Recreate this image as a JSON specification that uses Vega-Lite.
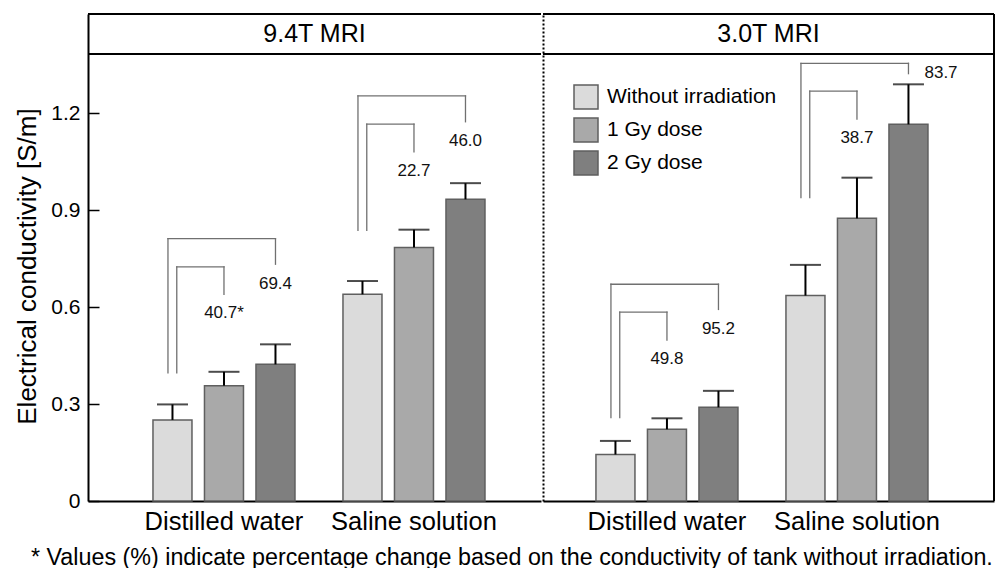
{
  "$schema": "https://vega.github.io/schema/vega-lite/v6.json",
  "background": "white",
  "padding": {"left": 14, "top": 13, "right": 0, "bottom": 0},
  "autosize": {"type": "pad"},
  "spacing": 0,
  "title": {
    "text": "* Values (%) indicate percentage change based on the conductivity of tank without irradiation.",
    "orient": "bottom", "anchor": "middle", "font": "Liberation Sans", "fontSize": 23.3, "fontWeight": "normal", "color": "#000", "offset": 12, "dx": 7
  },
  "datasets": {
    "bars": [
      {"panel": "9.4T MRI", "solution": "Distilled water", "dose": "Without irradiation", "value": 0.251, "upper": 0.299},
      {"panel": "9.4T MRI", "solution": "Distilled water", "dose": "1 Gy dose", "value": 0.357, "upper": 0.400},
      {"panel": "9.4T MRI", "solution": "Distilled water", "dose": "2 Gy dose", "value": 0.423, "upper": 0.485},
      {"panel": "9.4T MRI", "solution": "Saline solution", "dose": "Without irradiation", "value": 0.640, "upper": 0.681},
      {"panel": "9.4T MRI", "solution": "Saline solution", "dose": "1 Gy dose", "value": 0.785, "upper": 0.840},
      {"panel": "9.4T MRI", "solution": "Saline solution", "dose": "2 Gy dose", "value": 0.934, "upper": 0.984},
      {"panel": "3.0T MRI", "solution": "Distilled water", "dose": "Without irradiation", "value": 0.144, "upper": 0.186},
      {"panel": "3.0T MRI", "solution": "Distilled water", "dose": "1 Gy dose", "value": 0.222, "upper": 0.256},
      {"panel": "3.0T MRI", "solution": "Distilled water", "dose": "2 Gy dose", "value": 0.290, "upper": 0.341},
      {"panel": "3.0T MRI", "solution": "Saline solution", "dose": "Without irradiation", "value": 0.636, "upper": 0.731},
      {"panel": "3.0T MRI", "solution": "Saline solution", "dose": "1 Gy dose", "value": 0.875, "upper": 1.001},
      {"panel": "3.0T MRI", "solution": "Saline solution", "dose": "2 Gy dose", "value": 1.166, "upper": 1.290}
    ],
    "brackets": [
      {"panel": "9.4T MRI", "solution": "Distilled water", "kind": "outer", "left_bottom": 0.397, "top": 0.812, "right_bottom": 0.733, "label": "69.4", "label_y": 0.673},
      {"panel": "9.4T MRI", "solution": "Distilled water", "kind": "inner", "left_bottom": 0.397, "top": 0.725, "right_bottom": 0.640, "label": "40.7*", "label_y": 0.581},
      {"panel": "9.4T MRI", "solution": "Saline solution", "kind": "outer", "left_bottom": 0.838, "top": 1.254, "right_bottom": 1.174, "label": "46.0", "label_y": 1.115},
      {"panel": "9.4T MRI", "solution": "Saline solution", "kind": "inner", "left_bottom": 0.838, "top": 1.167, "right_bottom": 1.081, "label": "22.7", "label_y": 1.021},
      {"panel": "3.0T MRI", "solution": "Distilled water", "kind": "outer", "left_bottom": 0.258, "top": 0.671, "right_bottom": 0.593, "label": "95.2", "label_y": 0.533},
      {"panel": "3.0T MRI", "solution": "Distilled water", "kind": "inner", "left_bottom": 0.258, "top": 0.585, "right_bottom": 0.498, "label": "49.8", "label_y": 0.439},
      {"panel": "3.0T MRI", "solution": "Saline solution", "kind": "outer", "left_bottom": 0.939, "top": 1.355, "right_bottom": 1.323, "label": "83.7", "label_y": 1.326},
      {"panel": "3.0T MRI", "solution": "Saline solution", "kind": "inner", "left_bottom": 0.939, "top": 1.269, "right_bottom": 1.182, "label": "38.7", "label_y": 1.123}
    ]
  },
  "hconcat": [
    {
      "name": "p94",
      "width": 453,
      "height": 487,
      "layer": [
        {
          "data": {"name": "bars"},
          "transform": [{"filter": "datum.panel == '9.4T MRI'"}],
          "mark": {"type": "bar", "stroke": "#5f5f5f", "strokeWidth": 1.5},
          "encoding": {
            "x": {"field": "solution", "type": "nominal", "sort": null,
              "scale": {"domain": ["Distilled water", "Saline solution"], "paddingInner": 0.2526, "paddingOuter": 0.3184, "align": 0.537},
              "axis": {"title": null, "ticks": false, "labelAngle": 0, "labelFont": "Liberation Sans", "labelFontSize": 25.5, "labelColor": "#000", "labelPadding": 8, "domainColor": "#000", "domainWidth": 2, "grid": false}},
            "xOffset": {"field": "dose", "type": "nominal", "sort": null,
              "scale": {"domain": ["Without irradiation", "1 Gy dose", "2 Gy dose"], "paddingInner": 0.2426, "paddingOuter": 0}},
            "y": {"field": "value", "type": "quantitative",
              "scale": {"domain": [0, 1.5077], "nice": false},
              "axis": {"values": [0, 0.3, 0.6, 0.9, 1.2], "format": ".1~f", "ticks": false, "grid": true, "gridDash": [11, 3000], "gridColor": "#000", "gridWidth": 1.5, "gridOpacity": 1, "domainColor": "#000", "domainWidth": 2, "labelFont": "Liberation Sans", "labelFontSize": 21, "labelColor": "#000", "labelPadding": 8, "title": "Electrical conductivity [S/m]", "titleFont": "Liberation Sans", "titleFontSize": 26, "titleFontWeight": "normal", "titleColor": "#000", "titlePadding": 10, "titleLimit": 1000, "titleY": 252}},
            "fill": {"field": "dose", "type": "nominal", "sort": null,
              "scale": {"domain": ["Without irradiation", "1 Gy dose", "2 Gy dose"], "range": ["#dbdbdb", "#a9a9a9", "#7f7f7f"]},
              "legend": null}
          }
        },
        {
          "data": {"name": "bars"},
          "transform": [{"filter": "datum.panel == '9.4T MRI'"}],
          "mark": {"type": "rule", "color": "#000", "strokeWidth": 2},
          "encoding": {
            "x": {"field": "solution", "type": "nominal", "sort": null},
            "xOffset": {"field": "dose", "type": "nominal", "sort": null},
            "y": {"field": "value", "type": "quantitative"},
            "y2": {"field": "upper"}
          }
        },
        {
          "data": {"name": "bars"},
          "transform": [{"filter": "datum.panel == '9.4T MRI'"}],
          "mark": {"type": "tick", "color": "#000", "thickness": 2, "size": 31, "orient": "horizontal"},
          "encoding": {
            "x": {"field": "solution", "type": "nominal", "sort": null},
            "xOffset": {"field": "dose", "type": "nominal", "sort": null},
            "y": {"field": "upper", "type": "quantitative"}
          }
        },
        {
          "data": {"name": "brackets"},
          "transform": [{"filter": "datum.panel == '9.4T MRI' && datum.kind == 'outer'"}],
          "mark": {"type": "rule", "color": "#707070", "strokeWidth": 1.3, "strokeCap": "square"},
          "encoding": {
            "x": {"field": "solution", "type": "nominal", "sort": null, "bandPosition": 0.1056},
            "y": {"field": "left_bottom", "type": "quantitative"},
            "y2": {"field": "top"}
          }
        },
        {
          "data": {"name": "brackets"},
          "transform": [{"filter": "datum.panel == '9.4T MRI' && datum.kind == 'inner'"}],
          "mark": {"type": "rule", "color": "#707070", "strokeWidth": 1.3, "strokeCap": "square"},
          "encoding": {
            "x": {"field": "solution", "type": "nominal", "sort": null, "bandPosition": 0.1676},
            "y": {"field": "left_bottom", "type": "quantitative"},
            "y2": {"field": "top"}
          }
        },
        {
          "data": {"name": "brackets"},
          "transform": [{"filter": "datum.panel == '9.4T MRI' && datum.kind == 'outer'"}],
          "mark": {"type": "rule", "color": "#707070", "strokeWidth": 1.3, "strokeCap": "square"},
          "encoding": {
            "x": {"field": "solution", "type": "nominal", "sort": null, "bandPosition": 0.8627},
            "y": {"field": "right_bottom", "type": "quantitative"},
            "y2": {"field": "top"}
          }
        },
        {
          "data": {"name": "brackets"},
          "transform": [{"filter": "datum.panel == '9.4T MRI' && datum.kind == 'inner'"}],
          "mark": {"type": "rule", "color": "#707070", "strokeWidth": 1.3, "strokeCap": "square"},
          "encoding": {
            "x": {"field": "solution", "type": "nominal", "sort": null, "bandPosition": 0.5},
            "y": {"field": "right_bottom", "type": "quantitative"},
            "y2": {"field": "top"}
          }
        },
        {
          "data": {"name": "brackets"},
          "transform": [{"filter": "datum.panel == '9.4T MRI' && datum.kind == 'outer'"}],
          "mark": {"type": "rule", "color": "#707070", "strokeWidth": 1.3, "strokeCap": "square"},
          "encoding": {
            "x": {"field": "solution", "type": "nominal", "sort": null, "bandPosition": 0.1056},
            "x2": {"field": "solution", "bandPosition": 0.8627},
            "y": {"field": "top", "type": "quantitative"}
          }
        },
        {
          "data": {"name": "brackets"},
          "transform": [{"filter": "datum.panel == '9.4T MRI' && datum.kind == 'inner'"}],
          "mark": {"type": "rule", "color": "#707070", "strokeWidth": 1.3, "strokeCap": "square"},
          "encoding": {
            "x": {"field": "solution", "type": "nominal", "sort": null, "bandPosition": 0.1676},
            "x2": {"field": "solution", "bandPosition": 0.5},
            "y": {"field": "top", "type": "quantitative"}
          }
        },
        {
          "data": {"name": "brackets"},
          "transform": [{"filter": "datum.panel == '9.4T MRI' && datum.kind == 'outer'"}],
          "mark": {"type": "text", "font": "Liberation Sans", "fontSize": 17, "color": "#111", "baseline": "middle", "align": "center"},
          "encoding": {
            "x": {"field": "solution", "type": "nominal", "sort": null, "bandPosition": 0.8627},
            "y": {"field": "label_y", "type": "quantitative"},
            "text": {"field": "label"}
          }
        },
        {
          "data": {"name": "brackets"},
          "transform": [{"filter": "datum.panel == '9.4T MRI' && datum.kind == 'inner'"}],
          "mark": {"type": "text", "font": "Liberation Sans", "fontSize": 17, "color": "#111", "baseline": "middle", "align": "center"},
          "encoding": {
            "x": {"field": "solution", "type": "nominal", "sort": null, "bandPosition": 0.5},
            "y": {"field": "label_y", "type": "quantitative"},
            "text": {"field": "label"}
          }
        },
        {
          "data": {"values": [{"header": "9.4T MRI"}]},
          "mark": {"type": "text", "font": "Liberation Sans", "fontSize": 25, "color": "#000", "baseline": "middle", "align": "center"},
          "encoding": {
            "x": {"value": {"expr": "p94_width / 2"}},
            "y": {"datum": 1.446},
            "text": {"field": "header"}
          }
        },
        {
          "data": {"values": [{}]},
          "mark": {"type": "rule", "color": "#000", "strokeWidth": 2},
          "encoding": {"y": {"datum": 1.5077}}
        },
        {
          "data": {"values": [{}]},
          "mark": {"type": "rule", "color": "#000", "strokeWidth": 2},
          "encoding": {"y": {"datum": 1.384}}
        }
      ]
    },
    {
      "name": "p30",
      "width": 451,
      "height": 487,
      "layer": [
        {
          "data": {"name": "bars"},
          "transform": [{"filter": "datum.panel == '3.0T MRI'"}],
          "mark": {"type": "bar", "stroke": "#5f5f5f", "strokeWidth": 1.5},
          "encoding": {
            "x": {"field": "solution", "type": "nominal", "sort": null,
              "scale": {"domain": ["Distilled water", "Saline solution"], "paddingInner": 0.2526, "paddingOuter": 0.3131, "align": 0.445},
              "axis": {"title": null, "ticks": false, "labelAngle": 0, "labelFont": "Liberation Sans", "labelFontSize": 25.5, "labelColor": "#000", "labelPadding": 8, "domainColor": "#000", "domainWidth": 2, "grid": false}},
            "xOffset": {"field": "dose", "type": "nominal", "sort": null,
              "scale": {"domain": ["Without irradiation", "1 Gy dose", "2 Gy dose"], "paddingInner": 0.2426, "paddingOuter": 0}},
            "y": {"field": "value", "type": "quantitative",
              "scale": {"domain": [0, 1.5077], "nice": false},
              "axis": {"labels": false, "ticks": false, "title": null, "grid": false, "domainColor": "#000", "domainWidth": 2, "domainDash": [2, 2]}},
            "fill": {"field": "dose", "type": "nominal", "sort": null,
              "scale": {"domain": ["Without irradiation", "1 Gy dose", "2 Gy dose"], "range": ["#dbdbdb", "#a9a9a9", "#7f7f7f"]},
              "legend": {"orient": "none", "legendX": 30, "legendY": 70, "title": null, "symbolType": "square", "symbolSize": 576, "symbolStrokeColor": "#5f5f5f", "symbolStrokeWidth": 1.5, "symbolOpacity": 1, "labelFont": "Liberation Sans", "labelFontSize": 21, "labelColor": "#000", "labelOffset": 8, "labelLimit": 0, "rowPadding": 3, "padding": 0}}
          }
        },
        {
          "data": {"name": "bars"},
          "transform": [{"filter": "datum.panel == '3.0T MRI'"}],
          "mark": {"type": "rule", "color": "#000", "strokeWidth": 2},
          "encoding": {
            "x": {"field": "solution", "type": "nominal", "sort": null},
            "xOffset": {"field": "dose", "type": "nominal", "sort": null},
            "y": {"field": "value", "type": "quantitative", "title": null},
            "y2": {"field": "upper"}
          }
        },
        {
          "data": {"name": "bars"},
          "transform": [{"filter": "datum.panel == '3.0T MRI'"}],
          "mark": {"type": "tick", "color": "#000", "thickness": 2, "size": 31, "orient": "horizontal"},
          "encoding": {
            "x": {"field": "solution", "type": "nominal", "sort": null},
            "xOffset": {"field": "dose", "type": "nominal", "sort": null},
            "y": {"field": "upper", "type": "quantitative", "title": null}
          }
        },
        {
          "data": {"name": "brackets"},
          "transform": [{"filter": "datum.panel == '3.0T MRI' && datum.kind == 'outer'"}],
          "mark": {"type": "rule", "color": "#707070", "strokeWidth": 1.3, "strokeCap": "square"},
          "encoding": {
            "x": {"field": "solution", "type": "nominal", "sort": null, "bandPosition": 0.1056},
            "y": {"field": "left_bottom", "type": "quantitative", "title": null},
            "y2": {"field": "top"}
          }
        },
        {
          "data": {"name": "brackets"},
          "transform": [{"filter": "datum.panel == '3.0T MRI' && datum.kind == 'inner'"}],
          "mark": {"type": "rule", "color": "#707070", "strokeWidth": 1.3, "strokeCap": "square"},
          "encoding": {
            "x": {"field": "solution", "type": "nominal", "sort": null, "bandPosition": 0.1676},
            "y": {"field": "left_bottom", "type": "quantitative", "title": null},
            "y2": {"field": "top"}
          }
        },
        {
          "data": {"name": "brackets"},
          "transform": [{"filter": "datum.panel == '3.0T MRI' && datum.kind == 'outer'"}],
          "mark": {"type": "rule", "color": "#707070", "strokeWidth": 1.3, "strokeCap": "square"},
          "encoding": {
            "x": {"field": "solution", "type": "nominal", "sort": null, "bandPosition": 0.8627},
            "y": {"field": "right_bottom", "type": "quantitative", "title": null},
            "y2": {"field": "top"}
          }
        },
        {
          "data": {"name": "brackets"},
          "transform": [{"filter": "datum.panel == '3.0T MRI' && datum.kind == 'inner'"}],
          "mark": {"type": "rule", "color": "#707070", "strokeWidth": 1.3, "strokeCap": "square"},
          "encoding": {
            "x": {"field": "solution", "type": "nominal", "sort": null, "bandPosition": 0.5},
            "y": {"field": "right_bottom", "type": "quantitative", "title": null},
            "y2": {"field": "top"}
          }
        },
        {
          "data": {"name": "brackets"},
          "transform": [{"filter": "datum.panel == '3.0T MRI' && datum.kind == 'outer'"}],
          "mark": {"type": "rule", "color": "#707070", "strokeWidth": 1.3, "strokeCap": "square"},
          "encoding": {
            "x": {"field": "solution", "type": "nominal", "sort": null, "bandPosition": 0.1056},
            "x2": {"field": "solution", "bandPosition": 0.8627},
            "y": {"field": "top", "type": "quantitative", "title": null}
          }
        },
        {
          "data": {"name": "brackets"},
          "transform": [{"filter": "datum.panel == '3.0T MRI' && datum.kind == 'inner'"}],
          "mark": {"type": "rule", "color": "#707070", "strokeWidth": 1.3, "strokeCap": "square"},
          "encoding": {
            "x": {"field": "solution", "type": "nominal", "sort": null, "bandPosition": 0.1676},
            "x2": {"field": "solution", "bandPosition": 0.5},
            "y": {"field": "top", "type": "quantitative", "title": null}
          }
        },
        {
          "data": {"name": "brackets"},
          "transform": [{"filter": "datum.panel == '3.0T MRI' && datum.kind == 'outer' && datum.solution == 'Distilled water'"}],
          "mark": {"type": "text", "font": "Liberation Sans", "fontSize": 17, "color": "#111", "baseline": "middle", "align": "center"},
          "encoding": {
            "x": {"field": "solution", "type": "nominal", "sort": null, "bandPosition": 0.8627},
            "y": {"field": "label_y", "type": "quantitative", "title": null},
            "text": {"field": "label"}
          }
        },
        {
          "data": {"name": "brackets"},
          "transform": [{"filter": "datum.panel == '3.0T MRI' && datum.kind == 'outer' && datum.solution == 'Saline solution'"}],
          "mark": {"type": "text", "font": "Liberation Sans", "fontSize": 17, "color": "#111", "baseline": "middle", "align": "left", "dx": 16},
          "encoding": {
            "x": {"field": "solution", "type": "nominal", "sort": null, "bandPosition": 0.8627},
            "y": {"field": "label_y", "type": "quantitative", "title": null},
            "text": {"field": "label"}
          }
        },
        {
          "data": {"name": "brackets"},
          "transform": [{"filter": "datum.panel == '3.0T MRI' && datum.kind == 'inner'"}],
          "mark": {"type": "text", "font": "Liberation Sans", "fontSize": 17, "color": "#111", "baseline": "middle", "align": "center"},
          "encoding": {
            "x": {"field": "solution", "type": "nominal", "sort": null, "bandPosition": 0.5},
            "y": {"field": "label_y", "type": "quantitative", "title": null},
            "text": {"field": "label"}
          }
        },
        {
          "data": {"values": [{"header": "3.0T MRI"}]},
          "mark": {"type": "text", "font": "Liberation Sans", "fontSize": 25, "color": "#000", "baseline": "middle", "align": "center"},
          "encoding": {
            "x": {"value": {"expr": "p30_width / 2"}},
            "y": {"datum": 1.446},
            "text": {"field": "header"}
          }
        },
        {
          "data": {"values": [{}]},
          "mark": {"type": "rule", "color": "#000", "strokeWidth": 2},
          "encoding": {"y": {"datum": 1.5077}}
        },
        {
          "data": {"values": [{}]},
          "mark": {"type": "rule", "color": "#000", "strokeWidth": 2},
          "encoding": {"y": {"datum": 1.384}}
        },
        {
          "data": {"values": [{}]},
          "mark": {"type": "rule", "color": "#000", "strokeWidth": 2},
          "encoding": {"x": {"value": "width"}}
        }
      ]
    }
  ],
  "resolve": {"scale": {"xOffset": "independent"}, "legend": {"fill": "independent"}},
  "config": {
    "view": {"stroke": null},
    "font": "Liberation Sans",
    "axis": {"labelFont": "Liberation Sans", "titleFont": "Liberation Sans"}
  }
}
